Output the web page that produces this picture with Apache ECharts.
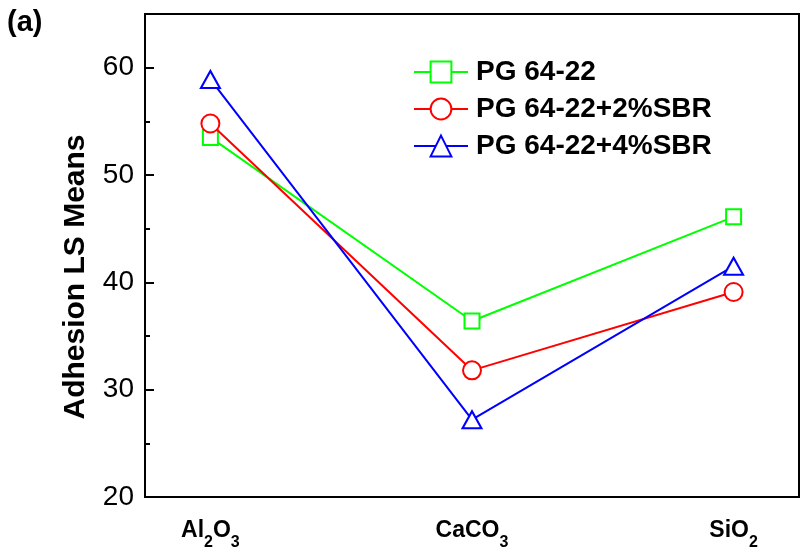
<!DOCTYPE html>
<html>
<head>
<meta charset="utf-8">
<script src="https://cdn.jsdelivr.net/npm/echarts@6/dist/echarts.min.js"></script>
<style>html,body{margin:0;padding:0;background:#fff;}#c{width:804px;height:556px;}</style>
</head>
<body>
<div id="c"></div>
<script>
const categories = ['Al2O3', 'CaCO3', 'SiO2'];
const categoryLabels = ['{a|Al}{s|2}{a|O}{s|3}', '{a|CaCO}{s|3}', '{a|SiO}{s|2}'];
const seriesNames = ['PG 64-22', 'PG 64-22+2%SBR', 'PG 64-22+4%SBR'];
const pg6422 = [53.5, 36.4, 46.1];
const sbr2 = [54.8, 31.8, 39.1];
const sbr4 = [58.9, 27.2, 41.5];
const yTicks = [20, 30, 40, 50, 60];

const chart = echarts.init(document.getElementById('c'));
const FONT = 'Arial, "Liberation Sans", sans-serif';
function pairs(arr) { return arr.map((v, i) => [i + 1, v]); }
const colors = ['#00ff00', '#ff0000', '#0000ff'];
const symbols = ['rect', 'circle', 'triangle'];
const sizes = [15, 18, [19, 17]];
const allData = [pg6422, sbr2, sbr4];

chart.setOption({
  animation: false,
  backgroundColor: '#fff',
  grid: { left: 145, right: 5, top: 14, bottom: 59, show: true, borderColor: '#000', borderWidth: 2, backgroundColor: 'transparent' },
  legend: {
    left: 408, top: 53, orient: 'vertical', itemGap: 9, itemWidth: 54, itemHeight: 26,
    textStyle: { fontFamily: FONT, fontWeight: 'bold', fontSize: 28, color: '#000', padding: [0,0,0,3] },
    data: seriesNames
  },
  xAxis: {
    type: 'value', min: 0.75, max: 3.25,
    axisLine: { show: true, lineStyle: { color: '#000', width: 2 } },
    axisTick: { show: false },
    splitLine: { show: false },
    axisLabel: {
      customValues: [1, 2, 3],
      margin: 22,
      formatter: v => categoryLabels[Math.round(v) - 1] || '',
      rich: {
        a: { fontFamily: FONT, fontWeight: 'bold', fontSize: 23, color: '#000', lineHeight: 24, verticalAlign: 'top' },
        s: { fontFamily: FONT, fontWeight: 'bold', fontSize: 16, color: '#000', lineHeight: 32, verticalAlign: 'bottom' }
      }
    }
  },
  yAxis: [{
    type: 'value', min: 20, max: 65, interval: 10,
    axisLine: { show: true, lineStyle: { color: '#000', width: 2 } },
    axisTick: { show: true, inside: true, length: 9, lineStyle: { color: '#000', width: 2 } },
    splitLine: { show: false },
    axisLabel: { showMaxLabel: false, fontFamily: FONT, fontSize: 28, color: '#000', margin: 11,
      formatter: v => yTicks.includes(v) ? String(v) : '' }
  }, {
    type: 'value', min: 20, max: 65, interval: 5, position: 'left',
    axisLine: { show: false },
    axisTick: { show: true, inside: true, length: 5, lineStyle: { color: '#000', width: 2 } },
    splitLine: { show: false },
    axisLabel: { show: false }
  }],
  graphic: [
    { type: 'text', left: 7, top: 8, style: { text: '(a)', font: 'bold 29px ' + FONT, fill: '#000' } },
    { type: 'text', x: 76, y: 277, rotation: Math.PI / 2, style: { text: 'Adhesion LS Means', font: 'bold 30px ' + FONT, fill: '#000', align: 'center', verticalAlign: 'middle' } }
  ],
  series: allData.map((d, i) => ({
    name: seriesNames[i], type: 'line', data: pairs(d), yAxisIndex: 0,
    symbol: symbols[i], symbolSize: sizes[i], showSymbol: true,
    lineStyle: { color: colors[i], width: 2 },
    itemStyle: { color: '#fff', borderColor: colors[i], borderWidth: 2 },
    emphasis: { disabled: true }, z: 3 + i
  }))
});
</script>
</body>
</html>
